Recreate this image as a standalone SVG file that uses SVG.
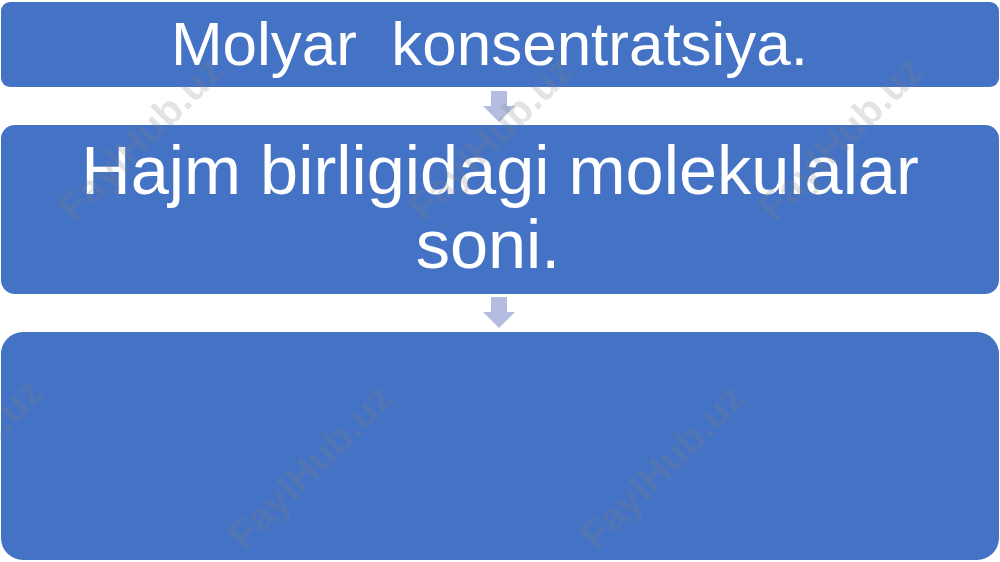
<svg xmlns="http://www.w3.org/2000/svg" width="1000" height="562" viewBox="0 0 1000 562">
<style>
.box{fill:#4472C4;}
.t{fill:#FFFFFF;font-family:"Liberation Sans",Arial,sans-serif;}
.arr{fill:#B4BDE0;}
.wm{fill:#808080;fill-opacity:0.22;font-family:"Liberation Sans",Arial,sans-serif;font-weight:bold;font-size:40px;text-anchor:middle;}
</style>
<rect width="1000" height="562" fill="#FFFFFF"/>
<g id="node1">
<rect class="box" x="1" y="2" width="998" height="85" rx="9"/>
<text class="t" x="171" y="65" font-size="61" xml:space="preserve" textLength="637" lengthAdjust="spacingAndGlyphs">Molyar  konsentratsiya.</text>
</g>
<g id="node2">
<rect class="box" x="1" y="125" width="998" height="169" rx="14"/>
<text class="t" x="500" y="194" font-size="68.5" text-anchor="middle">Hajm birligidagi molekulalar</text>
<text class="t" x="488" y="268" font-size="68.5" text-anchor="middle">soni.</text>
</g>
<g id="node3">
<rect class="box" x="1" y="332" width="998" height="228" rx="22"/>
</g>
<g id="connectors">
<polygon class="arr" points="491,91 507,91 507,106 515,106 499,122 483,106 491,106"/>
<polygon class="arr" points="491,297 507,297 507,312 515,312 499,328 483,312 491,312"/>
</g>
<g id="watermarks">
<text class="wm" transform="translate(150,148) rotate(-45)">FaylHub.uz</text>
<text class="wm" transform="translate(500,148) rotate(-45)">FaylHub.uz</text>
<text class="wm" transform="translate(850,148) rotate(-45)">FaylHub.uz</text>
<text class="wm" transform="translate(-30,470) rotate(-45)">FaylHub.uz</text>
<text class="wm" transform="translate(320,476) rotate(-45)">FaylHub.uz</text>
<text class="wm" transform="translate(672,476) rotate(-45)">FaylHub.uz</text>
</g>
</svg>
